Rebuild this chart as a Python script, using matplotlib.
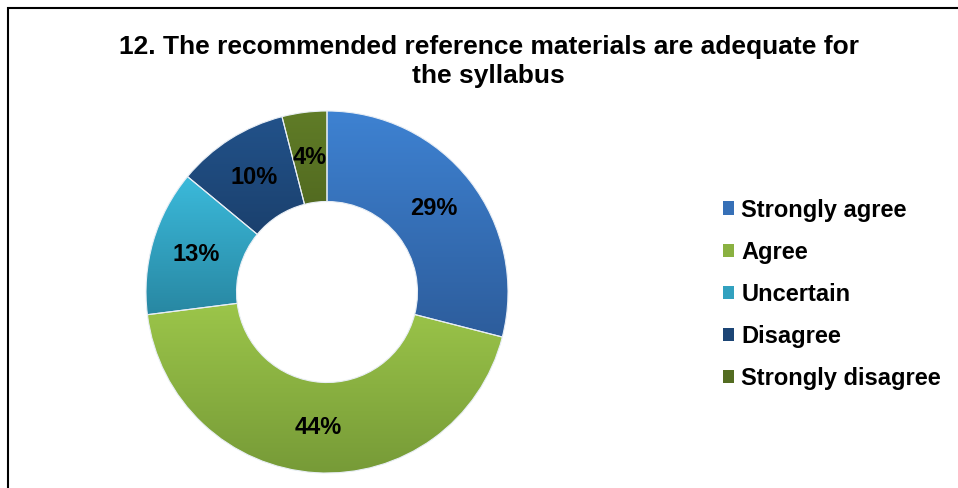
import numpy as np
import matplotlib
matplotlib.use("Agg")
import matplotlib.pyplot as plt
from matplotlib.colors import LinearSegmentedColormap
from matplotlib.patches import Rectangle

plt.rcParams['font.family'] = ['Liberation Sans', 'DejaVu Sans']

title = "12. The recommended reference materials are adequate for\nthe syllabus"
labels = ["Strongly agree", "Agree", "Uncertain", "Disagree", "Strongly disagree"]
shares = [29, 44, 13, 10, 4]
top_colors = ["#3e82d2", "#9ec84b", "#3bbadb", "#22528a", "#607c27"]
bottom_colors = ["#2d5d9c", "#769a37", "#2887a2", "#173860", "#465b1b"]

fig = plt.figure(figsize=(9.58, 4.88), dpi=100)
fig.patches.append(Rectangle((8 / 958, -0.1), 1.2, 1.1 - 8 / 488,
                             transform=fig.transFigure, fill=False,
                             edgecolor="black", linewidth=1.5))

ax = fig.add_axes([146 / 958, 15 / 488, 362 / 958, 362 / 488])
mid_colors = [np.mean([matplotlib.colors.to_rgb(a), matplotlib.colors.to_rgb(b)], axis=0)
              for a, b in zip(top_colors, bottom_colors)]
wedges, texts, autotexts = ax.pie(
    shares, colors=mid_colors, startangle=90, counterclock=False,
    radius=1.0, autopct=lambda p: f"{p:.0f}%", pctdistance=0.75,
    wedgeprops=dict(width=0.5, edgecolor="#e8eef5", linewidth=0.8),
    textprops=dict(fontsize=17, fontweight="bold", color="black"))

# vertical gradient fill clipped to each ring segment
grad = np.linspace(0, 1, 256).reshape(-1, 1)
for w, c0, c1 in zip(wedges, top_colors, bottom_colors):
    cmap = LinearSegmentedColormap.from_list("g", [c1, c0])
    verts = w.get_path().vertices
    ymin, ymax = verts[:, 1].min(), verts[:, 1].max()
    xmin, xmax = verts[:, 0].min(), verts[:, 0].max()
    im = ax.imshow(grad, cmap=cmap, origin="lower", aspect="auto",
                   extent=[xmin, xmax, ymin, ymax], zorder=w.get_zorder())
    im.set_clip_path(w)
    w.set_facecolor("none")
    w.set_zorder(w.get_zorder() + 0.5)
for t in autotexts:
    t.set_zorder(5)

ax.set_xlim(-1, 1)
ax.set_ylim(-1, 1)
ax.set_aspect("equal")
ax.axis("off")

handles = [Rectangle((0, 0), 1, 1, facecolor=c) for c in mid_colors]
fig.legend(handles, labels, loc="center left", bbox_to_anchor=(0.732, 0.397),
           frameon=False, prop=dict(size=17, weight="bold"),
           handlelength=0.5, handleheight=0.5, handletextpad=0.3,
           labelspacing=0.81)

fig.text(0.510, 0.928, title, ha="center", va="top", fontsize=19,
         fontweight="bold", linespacing=1.25)

fig.savefig("out.png", dpi=100)
